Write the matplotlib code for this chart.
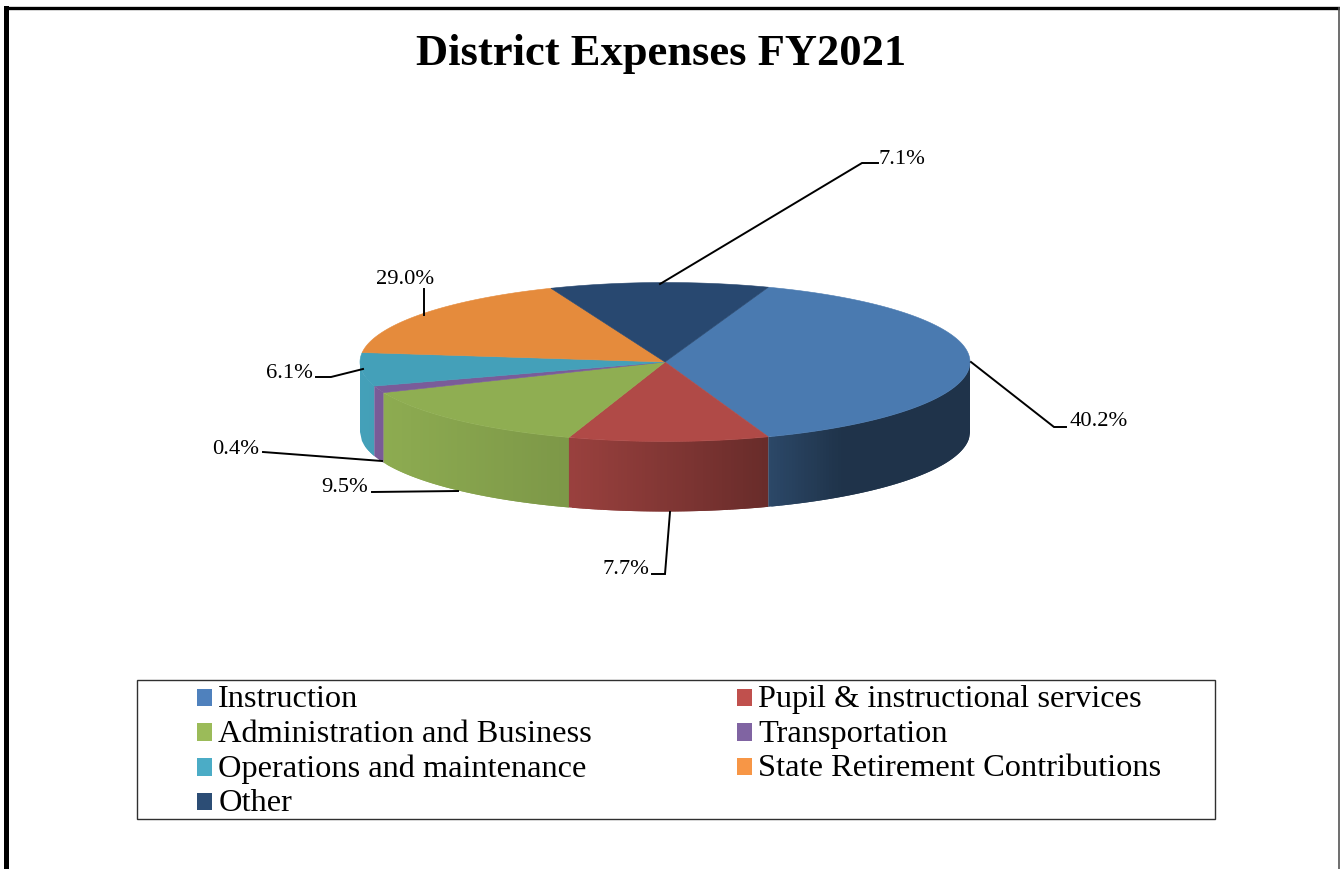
import numpy as np
import matplotlib
matplotlib.use('Agg')
import matplotlib.pyplot as plt
from matplotlib.patches import Patch, Polygon, Rectangle

title = 'District Expenses FY2021'
categories = ['Instruction', 'Pupil & instructional services', 'Administration and Business',
              'Transportation', 'Operations and maintenance', 'State Retirement Contributions', 'Other']
# printed labels
label_values = [40.2, 7.7, 9.5, 0.4, 6.1, 29.0, 7.1]
# share of the circle each slice really takes in the picture, not the same as the labels
drawn_shares = [39.0, 10.6, 13.6, 1.4, 6.8, 17.0, 11.6]
top_colors = ['#4a7ab0', '#b04a47', '#8fae52', '#7a5c99', '#44a0b9', '#e58b3c', '#284870']
legend_colors = ['#4f81bd', '#c0504d', '#9bbb59', '#8064a2', '#4bacc6', '#f79646', '#2c4d75']

# layout in pixels of the reference
CX, CY = 665, 362
RX, RY = 305, 79.5
DEPTH = 70
START_ANGLE = 70.2
SERIF = 'Liberation Serif'

# leader line points and label anchor for each slice
leaders = [
    ([(971, 362), (1054, 427), (1066, 427)], (1069, 422), 'left'),
    ([(670, 512), (665, 574), (652, 574)], (649, 570), 'right'),
    ([(458, 491), (372, 492)], (368, 488), 'right'),
    ([(382, 461), (263, 452)], (259, 449), 'right'),
    ([(363, 369), (331, 377), (316, 377)], (313, 373), 'right'),
    ([(424, 315), (424, 289)], (405, 279), 'center'),
    ([(660, 284), (862, 163), (878, 163)], (879, 160), 'left'),
]


def rim(angles):
    a = np.radians(angles)
    return CX + RX * np.cos(a), CY - RY * np.sin(a)


def wall_shade(x):
    # light falls off to the right of the pie front
    return np.interp(x, [360, 570, 768, 840, 970], [1.0, 0.87, 0.59, 0.42, 0.42])


def draw_pie(ax):
    edges = START_ANGLE - np.cumsum([0] + drawn_shares) * 3.6

    # front wall, strips of even width painted left to right, each runs under the next
    for i in reversed(range(len(drawn_shares))):
        lo = max(edges[i + 1], -180)
        hi = min(edges[i], 0)
        if lo >= hi:
            continue
        rgb = np.array(matplotlib.colors.to_rgb(top_colors[i]))
        x_lo, x_hi = rim(lo)[0], rim(hi)[0]
        steps = np.linspace(x_lo, x_hi, max(int((x_hi - x_lo) / 3), 2))
        for j, x0 in enumerate(steps[:-1]):
            x1 = steps[min(j + 2, len(steps) - 1)]
            x = np.linspace(x0, x1, 6)
            y = CY + RY * np.sqrt(np.clip(1 - ((x - CX) / RX) ** 2, 0, 1))
            strip = np.vstack([np.column_stack([x, y]), np.column_stack([x, y + DEPTH])[::-1]])
            c = rgb * wall_shade(x0)
            ax.add_patch(Polygon(strip, closed=True, facecolor=c, edgecolor='none', zorder=2))

    # top face
    for i in range(len(drawn_shares)):
        x, y = rim(np.linspace(edges[i], edges[i + 1], 200))
        pts = np.vstack([[CX, CY], np.column_stack([x, y])])
        ax.add_patch(Polygon(pts, closed=True, facecolor=top_colors[i], edgecolor=top_colors[i],
                             lw=0.4, zorder=3))


def draw_labels(ax):
    for value, (line, pos, ha) in zip(label_values, leaders):
        xs, ys = zip(*line)
        ax.plot(xs, ys, color='black', lw=1.4, zorder=4, solid_joinstyle='miter')
        ax.text(pos[0], pos[1], f'{value:.1f}%', ha=ha, va='center', fontsize=16.2,
                family=SERIF, color='black', zorder=5)


def draw_legend(ax):
    ax.add_patch(Rectangle((137, 680), 1078, 139, facecolor='white', edgecolor='#303030', lw=1.0, zorder=1))
    # column first order, so the rows read across like the original
    handles = [Patch(facecolor=c, edgecolor='none', label=n) for c, n in zip(legend_colors, categories)]
    order = [0, 2, 4, 6, 1, 3, 5]
    leg = ax.legend([handles[i] for i in order], [categories[i] for i in order], ncol=2, frameon=False,
                    loc='upper left', bbox_to_anchor=(197, 685), bbox_transform=ax.transData,
                    borderpad=0, borderaxespad=0, handlelength=0.46, handleheight=0.46, handletextpad=0.2,
                    labelspacing=0.17, columnspacing=4.47, prop={'family': SERIF, 'size': 23.3})
    leg.set_zorder(5)
    for p in leg.get_patches():
        p.set_y(p.get_y() - 1.4)


def main():
    fig = plt.figure(figsize=(13.4, 8.69), dpi=100)
    ax = fig.add_axes([0, 0, 1, 1])
    ax.set_xlim(0, 1340)
    ax.set_ylim(869, 0)
    ax.axis('off')

    # page border
    ax.plot([5.5, 5.5], [869, 7.5], color='black', lw=3.6, solid_joinstyle='miter', zorder=1)
    ax.plot([5.5, 1340], [7.5, 7.5], color='black', lw=2.4, zorder=1)
    ax.plot([1339, 1339], [7.5, 869], color='#555555', lw=1.2, zorder=1)

    ax.text(661, 54, title, ha='center', va='center', fontsize=32, fontweight='bold', family=SERIF)

    draw_pie(ax)
    draw_labels(ax)
    draw_legend(ax)

    fig.savefig('out.png', dpi=100)


if __name__ == '__main__':
    main()
